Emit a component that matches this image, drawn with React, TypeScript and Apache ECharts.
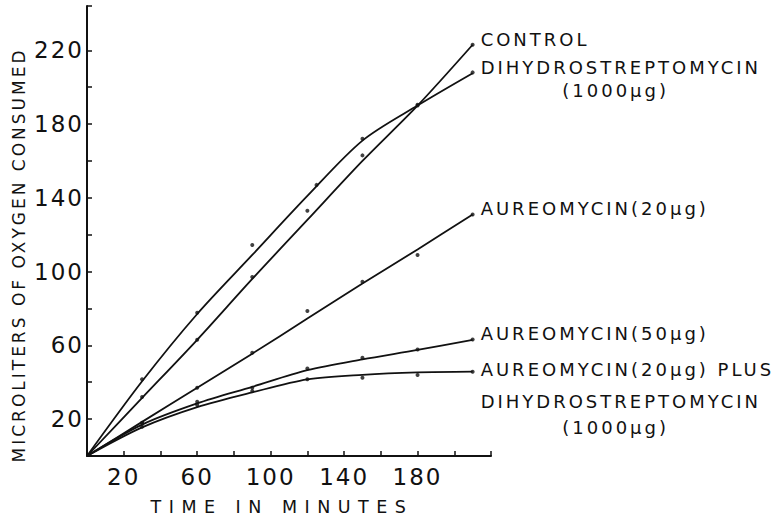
import React, { useEffect, useRef } from 'react';
import * as echarts from 'echarts';

// Fitted curves (time in minutes, microliters O2)
const controlCurve = [[0, 0], [30, 31.5], [60, 63], [90, 96], [120, 128], [150, 160], [180, 190], [210, 223]];
const dihydroCurve = [[0, 0], [30, 40.5], [60, 77], [90, 109], [120, 141], [150, 171], [180, 190], [210, 207.5]];
const aureo20Curve = [[0, 0], [30, 18.5], [60, 37], [90, 55.5], [120, 74.5], [150, 93.5], [180, 112], [210, 131]];
const aureo50Curve = [[0, 0], [30, 17], [60, 28.5], [90, 37.5], [120, 46.5], [150, 52.4], [180, 57.5], [210, 63]];
const comboCurve = [[0, 0], [30, 15.5], [60, 26.5], [90, 34.5], [120, 41.5], [150, 44], [180, 45.3], [210, 45.7]];

// Measured points
const controlPts = [[30, 32], [60, 63], [90, 97], [120, 133], [150, 163], [180, 190], [210, 223]];
const dihydroPts = [[30, 41.6], [60, 77.7], [90, 114.4], [125, 147], [150, 172], [180, 190.5], [210, 208]];
const aureo20Pts = [[30, 18], [60, 37], [90, 56], [120, 78.6], [150, 94.5], [180, 109], [210, 131]];
const aureo50Pts = [[30, 17.7], [60, 29.4], [90, 37], [120, 47.5], [150, 53.3], [180, 57.8], [210, 63.2]];
const comboPts = [[30, 15.9], [60, 27.6], [90, 35.2], [120, 41.6], [150, 42.4], [180, 43.9], [210, 45.7]];

const seriesLabels = [
  ['CONTROL'],
  ['DIHYDROSTREPTOMYCIN', '(1000μg)'],
  ['AUREOMYCIN(20μg)'],
  ['AUREOMYCIN(50μg)'],
  ['AUREOMYCIN(20μg) PLUS', 'DIHYDROSTREPTOMYCIN', '(1000μg)'],
];

const xTicks = [0, 20, 40, 60, 80, 100, 120, 140, 160, 180, 200, 220];
const xLabels = [20, 60, 100, 140, 180];
const yTicks = [0, 20, 40, 60, 80, 100, 120, 140, 160, 180, 200, 220, 244];
const yLabels = [20, 60, 100, 140, 180, 220];

const xName = 'TIME IN MINUTES';
const yName = 'MICROLITERS OF OXYGEN CONSUMED';

const INK = '#111';
const FONT = '"DejaVu Sans", sans-serif';

const css = `
#chartbox text[style*="23px"]{letter-spacing:2px}
#chartbox text[style*="18px"]{letter-spacing:3px}
#chartbox text[style*="17px"]{letter-spacing:3px}
#chartbox text[style*="17.5px"]{letter-spacing:7.5px}
`;

export default function App() {
  const ref = useRef<HTMLDivElement>(null);
  useEffect(() => {
    if (!ref.current) return;
    const chart = echarts.init(ref.current, null, { renderer: 'svg' });
    const curves = [controlCurve, dihydroCurve, aureo20Curve, aureo50Curve, comboCurve];
    const pts = [controlPts, dihydroPts, aureo20Pts, aureo50Pts, comboPts];
    const series: any[] = [];
    curves.forEach((c, i) => {
      series.push({
        type: 'line',
        name: seriesLabels[i].join(' '),
        data: c,
        smooth: 0.3,
        showSymbol: false,
        silent: true,
        lineStyle: { color: INK, width: 1.8 },
      });
    });
    pts.forEach((p, i) => {
      series.push({
        type: 'scatter',
        name: seriesLabels[i].join(' ') + ' points',
        data: p,
        symbol: 'circle',
        symbolSize: 4,
        silent: true,
        itemStyle: { color: INK },
      });
    });
    const option: any = {
      animation: false,
      backgroundColor: '#fff',
      grid: { left: 87, top: 6, width: 404, height: 450, containLabel: false, outerBoundsMode: 'none' },
      xAxis: {
        type: 'value',
        min: 0,
        max: 220,
        interval: 20,
        splitLine: { show: false },
        axisLine: { show: true, lineStyle: { color: INK, width: 2 } },
        axisTick: { show: true, inside: true, length: 5, customValues: xTicks, lineStyle: { color: INK, width: 1.5 } },
        axisLabel: {
          customValues: xLabels,
          formatter: (v: number) => (xLabels.includes(v) ? String(v) : ''),
          fontFamily: FONT,
          fontSize: 23,
          color: INK,
          margin: 9,
        },
      },
      yAxis: {
        type: 'value',
        min: 0,
        max: 244,
        interval: 20,
        splitLine: { show: false },
        axisLine: { show: true, lineStyle: { color: INK, width: 2 } },
        axisTick: { show: true, inside: true, length: 5, customValues: yTicks, lineStyle: { color: INK, width: 1.5 } },
        axisLabel: {
          customValues: yLabels,
          formatter: (v: number) => (yLabels.includes(v) ? String(v) : ''),
          fontFamily: FONT,
          fontSize: 23,
          color: INK,
          margin: 3,
        },
      },
      series,
    };
    chart.setOption(option);

    // Labels anchored to each curve's last point
    const firstDy = [-5.5, -6, -5.5, -6.5, -2.5];
    const lineGaps = [[], [23], [], [], [32, 26.5]];
    const graphics: any[] = [];
    curves.forEach((c, i) => {
      const last = c[c.length - 1];
      const pos = chart.convertToPixel({ gridIndex: 0 }, last) as number[];
      const left = pos[0] + 8;
      let y = pos[1] + firstDy[i];
      seriesLabels[i].forEach((t, j) => {
        if (j > 0) y += lineGaps[i][j - 1];
        const isUnit = t.startsWith('(');
        graphics.push({
          type: 'text',
          x: isUnit ? left + 135 : left,
          y,
          silent: true,
          style: {
            text: t,
            fill: INK,
            font: `18px ${FONT}`,
            textAlign: isUnit ? 'center' : 'left',
            textVerticalAlign: 'middle',
            align: isUnit ? 'center' : 'left',
            verticalAlign: 'middle',
          },
        });
      });
    });
    graphics.push({
      type: 'text',
      x: 19,
      y: 255,
      rotation: Math.PI / 2,
      silent: true,
      style: {
        text: yName,
        fill: INK,
        font: `17px ${FONT}`,
        textAlign: 'center',
        textVerticalAlign: 'middle',
        align: 'center',
        verticalAlign: 'middle',
      },
    });
    graphics.push({
      type: 'text',
      x: 282,
      y: 507,
      silent: true,
      style: {
        text: xName,
        fill: INK,
        font: `17.5px ${FONT}`,
        textAlign: 'center',
        textVerticalAlign: 'middle',
        align: 'center',
        verticalAlign: 'middle',
      },
    });
    chart.setOption({ graphic: graphics });
    return () => chart.dispose();
  }, []);
  return (
    <>
      <style>{css}</style>
      <div
        id="chartbox"
        ref={ref}
        style={{ position: 'fixed', left: 0, top: 0, width: 783, height: 523, background: '#fff' }}
      />
    </>
  );
}
